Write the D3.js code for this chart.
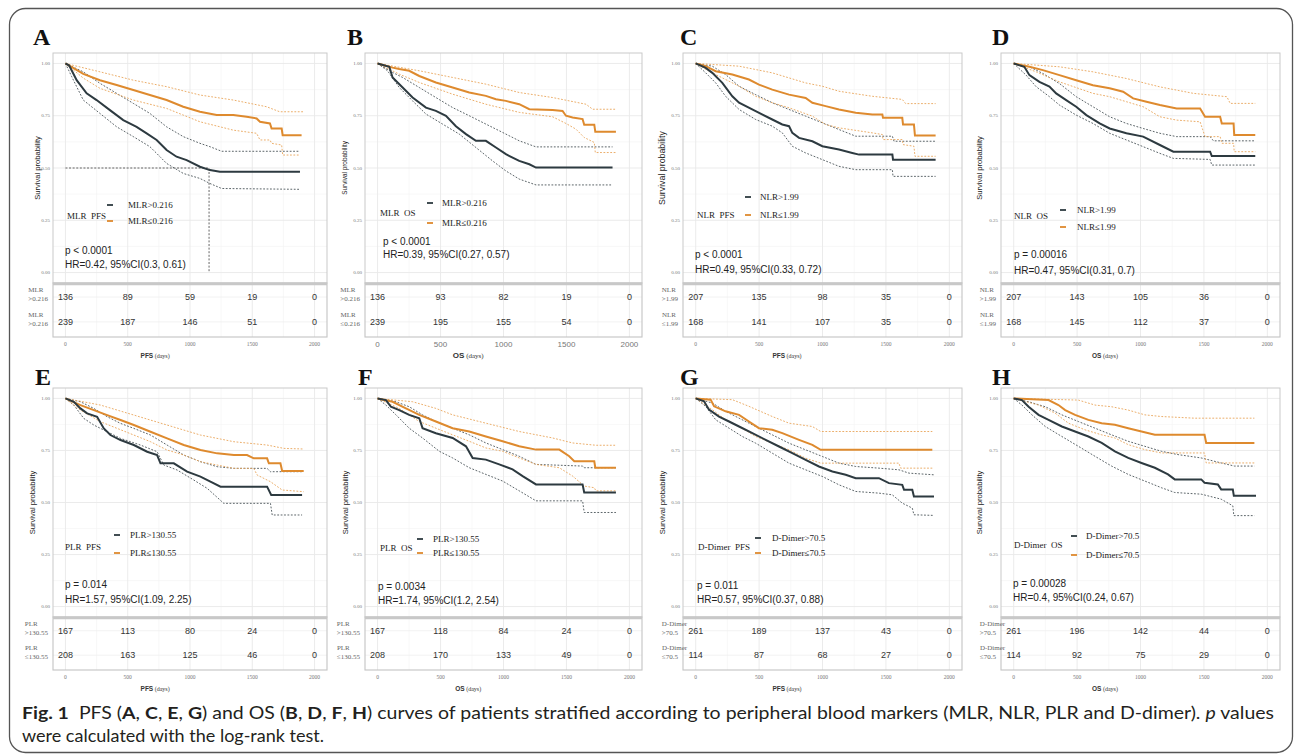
<!DOCTYPE html>
<html>
<head>
<meta charset="utf-8">
<script src="https://cdn.jsdelivr.net/npm/d3@7"></script>
<style>
  body { margin: 0; background: #fff; }
  svg { display: block; }
</style>
</head>
<body>
<svg id="fig" width="1295" height="755"></svg>
<script>
// ---- data ----
const timeTicks = [0, 500, 1000, 1500, 2000];
const survTicks = [0, 0.25, 0.5, 0.75, 1];
const survTickLabels = ['0.00', '0.25', '0.50', '0.75', '1.00'];

const panelLetters = ['A', 'B', 'C', 'D', 'E', 'F', 'G', 'H'];
const endpoints = ['PFS', 'OS', 'PFS', 'OS', 'PFS', 'OS', 'PFS', 'OS'];
const legendTitles = ['MLR  PFS', 'MLR  OS', 'NLR  PFS', 'NLR  OS', 'PLR  PFS', 'PLR  OS', 'D-Dimer  PFS', 'D-Dimer  OS'];
const highLabels = ['MLR>0.216', 'MLR>0.216', 'NLR>1.99', 'NLR>1.99', 'PLR>130.55', 'PLR>130.55', 'D-Dimer>70.5', 'D-Dimer>70.5'];
const lowLabels = ['MLR≤0.216', 'MLR≤0.216', 'NLR≤1.99', 'NLR≤1.99', 'PLR≤130.55', 'PLR≤130.55', 'D-Dimer≤70.5', 'D-Dimer≤70.5'];
const tableLabels = [
  [['MLR', '>0.216'], ['MLR', '>0.216']],
  [['MLR', '>0.216'], ['MLR', '≤0.216']],
  [['NLR', '>1.99'], ['NLR', '≤1.99']],
  [['NLR', '>1.99'], ['NLR', '≤1.99']],
  [['PLR', '>130.55'], ['PLR', '≤130.55']],
  [['PLR', '>130.55'], ['PLR', '≤130.55']],
  [['D-Dimer', '>70.5'], ['D-Dimer', '≤70.5']],
  [['D-Dimer', '>70.5'], ['D-Dimer', '≤70.5']]
];
const pValues = ['p < 0.0001', 'p < 0.0001', 'p < 0.0001', 'p = 0.00016', 'p = 0.014', 'p = 0.0034', 'p = 0.011', 'p = 0.00028'];
const hrTexts = ['HR=0.42, 95%CI(0.3, 0.61)', 'HR=0.39, 95%CI(0.27, 0.57)', 'HR=0.49, 95%CI(0.33, 0.72)', 'HR=0.47, 95%CI(0.31, 0.7)',
  'HR=1.57, 95%CI(1.09, 2.25)', 'HR=1.74, 95%CI(1.2, 2.54)', 'HR=0.57, 95%CI(0.37, 0.88)', 'HR=0.4, 95%CI(0.24, 0.67)'];

// numbers at risk (row 1 = high group, row 2 = low group) at 0/500/1000/1500/2000 days
const riskA = [[136, 89, 59, 19, 0], [239, 187, 146, 51, 0]];
const riskB = [[136, 93, 82, 19, 0], [239, 195, 155, 54, 0]];
const riskC = [[207, 135, 98, 35, 0], [168, 141, 107, 35, 0]];
const riskD = [[207, 143, 105, 36, 0], [168, 145, 112, 37, 0]];
const riskE = [[167, 113, 80, 24, 0], [208, 163, 125, 46, 0]];
const riskF = [[167, 118, 84, 24, 0], [208, 170, 133, 49, 0]];
const riskG = [[261, 189, 137, 43, 0], [114, 87, 68, 27, 0]];
const riskH = [[261, 196, 142, 44, 0], [114, 92, 75, 29, 0]];

// median survival time marked in panel A
const aMedian = 1153;

// Kaplan-Meier curves: [days, survival]; Hi = dark group, Lo = orange group; Up/Lo suffix = 95% CI
const aHiEst = [[0,1],[30,.99],[90,.92],[170,.857],[250,.825],[357,.777],[464,.729],[571,.697],[652,.666],[732,.634],[812,.586],[892,.554],[973,.538],[1080,.506],[1160,.49],[1240,.482],[1883,.482]];
const aHiUp = [[0,1],[143,.96],[277,.905],[411,.857],[545,.809],[678,.761],[812,.697],[946,.65],[1080,.618],[1160,.602],[1254,.58],[1883,.58]];
const aHiLo = [[0,1],[50,.937],[143,.825],[277,.761],[411,.697],[545,.65],[678,.602],[759,.554],[812,.522],[946,.474],[1080,.45],[1160,.426],[1254,.402],[1883,.398]];
const aLoEst = [[0,1],[143,.95],[277,.92],[411,.897],[545,.873],[678,.849],[812,.825],[946,.793],[1080,.769],[1214,.753],[1348,.753],[1455,.745],[1535,.737],[1562,.721],[1642,.713],[1655,.689],[1736,.689],[1744,.657],[1896,.657]];
const aLoUp = [[0,1],[277,.96],[545,.92],[812,.889],[1080,.849],[1348,.825],[1615,.793],[1720,.769],[1910,.769]];
const aLoLo = [[0,1],[143,.93],[277,.881],[545,.825],[812,.785],[946,.753],[1080,.721],[1348,.681],[1535,.666],[1562,.634],[1642,.634],[1655,.618],[1736,.61],[1744,.562],[1883,.562]];

const bHiEst = [[0,1],[93,.984],[119,.933],[199,.885],[278,.837],[384,.789],[463,.773],[543,.75],[622,.70],[702,.662],[781,.63],[860,.63],[940,.598],[1019,.566],[1125,.534],[1205,.518],[1258,.502],[1866,.502]];
const bHiUp = [[0,1],[119,.957],[199,.933],[331,.885],[463,.837],[596,.789],[728,.75],[860,.71],[993,.67],[1125,.63],[1258,.601],[1866,.601]];
const bHiLo = [[0,1],[79,.965],[172,.885],[278,.821],[384,.758],[516,.71],[649,.662],[781,.598],[913,.534],[1019,.486],[1125,.447],[1258,.419],[1866,.419]];
const bLoEst = [[0,1],[119,.98],[172,.973],[251,.965],[331,.94],[463,.909],[596,.885],[728,.861],[860,.845],[940,.829],[1019,.821],[1125,.805],[1205,.781],[1390,.777],[1469,.773],[1496,.75],[1549,.742],[1628,.734],[1641,.707],[1721,.707],[1729,.673],[1893,.673]];
const bLoUp = [[0,1],[331,.965],[596,.933],[860,.901],[1125,.861],[1390,.837],[1655,.805],[1708,.781],[1893,.781]];
const bLoLo = [[0,1],[172,.949],[331,.909],[596,.853],[860,.805],[1125,.766],[1390,.745],[1496,.713],[1575,.686],[1641,.646],[1721,.622],[1729,.574],[1893,.574]];

const cHiEst = [[0,1],[79,.979],[131,.955],[210,.907],[289,.843],[342,.812],[473,.772],[604,.732],[683,.708],[736,.70],[762,.668],[815,.644],[920,.628],[999,.604],[1130,.588],[1235,.572],[1288,.564],[1551,.564],[1556,.54],[1892,.54]];
const cHiUp = [[0,1],[131,.987],[236,.947],[342,.891],[473,.851],[604,.812],[736,.78],[867,.748],[999,.716],[1130,.684],[1262,.652],[1551,.652],[1564,.628],[1892,.628]];
const cHiLo = [[0,1],[79,.955],[158,.907],[236,.843],[342,.78],[473,.732],[604,.70],[683,.668],[762,.604],[867,.572],[999,.54],[1130,.508],[1262,.492],[1551,.492],[1556,.46],[1892,.46]];
const cLoEst = [[0,1],[79,.987],[158,.963],[289,.947],[420,.923],[499,.899],[604,.875],[736,.851],[867,.835],[920,.812],[1025,.796],[1130,.78],[1262,.764],[1393,.756],[1472,.756],[1477,.74],[1629,.74],[1635,.708],[1721,.708],[1729,.655],[1892,.655]];
const cLoUp = [[0,1],[342,.987],[604,.955],[867,.907],[999,.891],[1130,.867],[1393,.843],[1629,.828],[1656,.808],[1892,.808]];
const cLoLo = [[0,1],[131,.955],[342,.891],[473,.843],[604,.812],[736,.788],[920,.748],[1025,.708],[1130,.692],[1393,.668],[1472,.66],[1477,.636],[1629,.636],[1635,.612],[1721,.604],[1729,.556],[1892,.556]];

const dHiEst = [[0,1],[84,.984],[124,.944],[203,.912],[282,.889],[335,.857],[414,.825],[493,.793],[573,.753],[678,.713],[757,.689],[889,.666],[1021,.65],[1153,.61],[1259,.578],[1549,.578],[1562,.557],[1905,.557]];
const dHiUp = [[0,1],[124,.984],[230,.952],[361,.904],[493,.841],[625,.793],[757,.745],[889,.713],[1021,.689],[1153,.666],[1285,.65],[1549,.65],[1575,.63],[1905,.63]];
const dHiLo = [[0,1],[98,.944],[177,.889],[282,.841],[361,.801],[493,.753],[625,.713],[757,.666],[889,.634],[1021,.602],[1153,.57],[1259,.546],[1549,.541],[1562,.514],[1905,.514]];
const dLoEst = [[0,1],[124,.984],[230,.968],[361,.944],[493,.92],[625,.896],[757,.881],[863,.865],[942,.833],[1047,.817],[1153,.801],[1285,.785],[1470,.785],[1509,.745],[1628,.745],[1641,.713],[1734,.713],[1739,.658],[1905,.658]];
const dLoUp = [[0,1],[361,.984],[625,.96],[889,.928],[1153,.888],[1417,.857],[1681,.841],[1707,.809],[1905,.809]];
const dLoLo = [[0,1],[177,.96],[361,.912],[625,.857],[757,.841],[889,.817],[1021,.793],[1153,.745],[1285,.729],[1470,.721],[1509,.65],[1628,.65],[1641,.618],[1734,.618],[1739,.578],[1905,.578]];

const eHiEst = [[0,1],[67,.984],[120,.952],[174,.928],[254,.912],[308,.856],[361,.824],[442,.80],[549,.776],[656,.744],[736,.728],[763,.688],[870,.688],[977,.648],[1084,.624],[1164,.60],[1245,.576],[1619,.576],[1652,.536],[1900,.536]];
const eHiUp = [[0,1],[120,.984],[228,.952],[335,.912],[442,.88],[549,.856],[683,.824],[816,.776],[950,.728],[1084,.696],[1218,.672],[1352,.664],[1619,.664],[1646,.648],[1900,.648]];
const eHiLo = [[0,1],[67,.968],[147,.904],[228,.872],[335,.84],[442,.808],[602,.776],[736,.744],[790,.68],[897,.656],[1030,.608],[1138,.568],[1271,.496],[1646,.496],[1660,.44],[1900,.44]];
const eLoEst = [[0,1],[120,.968],[228,.944],[335,.92],[442,.896],[549,.872],[683,.84],[816,.808],[950,.776],[1084,.752],[1218,.736],[1352,.728],[1458,.728],[1512,.712],[1619,.712],[1633,.688],[1726,.688],[1740,.651],[1913,.651]];
const eLoUp = [[0,1],[281,.968],[549,.92],[816,.872],[1084,.824],[1352,.792],[1619,.776],[1753,.76],[1913,.757]];
const eLoLo = [[0,1],[120,.944],[281,.888],[415,.856],[549,.824],[683,.792],[816,.752],[950,.728],[1084,.696],[1352,.664],[1512,.664],[1539,.632],[1619,.608],[1646,.60],[1740,.56],[1913,.552]];

const fHiEst = [[0,1],[66,.992],[106,.96],[172,.944],[251,.921],[331,.905],[357,.857],[463,.833],[596,.81],[702,.77],[755,.714],[860,.706],[966,.683],[1072,.659],[1152,.627],[1258,.587],[1628,.587],[1641,.548],[1893,.548]];
const fHiUp = [[0,1],[146,.984],[251,.96],[357,.921],[463,.889],[596,.857],[728,.825],[860,.786],[993,.754],[1125,.722],[1258,.683],[1628,.675],[1641,.667],[1893,.667]];
const fHiLo = [[0,1],[66,.968],[146,.921],[251,.857],[357,.81],[490,.746],[596,.714],[728,.667],[860,.635],[993,.603],[1125,.556],[1258,.508],[1628,.508],[1641,.452],[1893,.452]];
const fLoEst = [[0,1],[119,.984],[225,.952],[331,.921],[463,.889],[596,.857],[728,.841],[860,.817],[993,.794],[1125,.77],[1258,.754],[1443,.754],[1522,.722],[1562,.698],[1721,.698],[1729,.667],[1893,.667]];
const fLoUp = [[0,1],[278,.984],[463,.952],[596,.921],[860,.881],[1125,.841],[1390,.81],[1549,.786],[1734,.775],[1893,.775]];
const fLoLo = [[0,1],[172,.952],[331,.889],[463,.857],[596,.825],[728,.794],[860,.762],[993,.746],[1125,.714],[1258,.683],[1443,.667],[1549,.627],[1641,.579],[1721,.571],[1734,.556],[1893,.556]];

const gHiEst = [[0,1],[66,.986],[105,.946],[184,.913],[263,.889],[342,.865],[447,.833],[552,.801],[657,.769],[762,.737],[867,.705],[972,.673],[1078,.649],[1183,.633],[1262,.617],[1445,.617],[1524,.593],[1629,.585],[1643,.561],[1708,.561],[1721,.529],[1879,.529]];
const gHiUp = [[0,1],[131,.978],[236,.938],[342,.905],[473,.865],[604,.825],[736,.785],[867,.753],[999,.721],[1130,.689],[1262,.673],[1445,.665],[1603,.657],[1682,.641],[1879,.633]];
const gHiLo = [[0,1],[79,.962],[158,.897],[263,.857],[368,.817],[473,.785],[604,.737],[736,.689],[867,.657],[999,.625],[1130,.585],[1262,.553],[1445,.545],[1550,.537],[1629,.497],[1708,.473],[1721,.441],[1879,.438]];
const gLoEst = [[0,1],[118,.994],[145,.962],[236,.938],[342,.921],[420,.889],[499,.857],[604,.849],[683,.833],[815,.801],[920,.777],[986,.753],[1866,.753]];
const gLoUp = [[0,1],[289,.994],[420,.962],[604,.913],[736,.881],[920,.865],[986,.841],[1866,.841]];
const gLoLo = [[0,1],[131,.946],[236,.897],[342,.865],[473,.817],[604,.785],[736,.753],[867,.713],[986,.689],[1603,.689],[1616,.665],[1866,.665]];

const hHiEst = [[0,1],[65,.992],[118,.96],[196,.921],[275,.897],[380,.865],[484,.841],[589,.817],[694,.786],[798,.746],[903,.714],[1008,.69],[1113,.667],[1217,.635],[1270,.611],[1479,.611],[1505,.595],[1610,.587],[1636,.563],[1728,.563],[1736,.532],[1911,.532]];
const hHiUp = [[0,1],[118,.984],[249,.96],[380,.921],[510,.889],[641,.857],[772,.825],[903,.794],[1034,.77],[1165,.746],[1296,.73],[1479,.714],[1636,.69],[1741,.675],[1898,.675]];
const hHiLo = [[0,1],[65,.968],[144,.921],[249,.865],[380,.817],[510,.77],[641,.722],[772,.675],[903,.635],[1034,.603],[1165,.571],[1270,.548],[1479,.54],[1636,.516],[1728,.484],[1736,.437],[1898,.437]];
const hLoEst = [[0,1],[275,.992],[353,.968],[406,.944],[484,.921],[589,.897],[694,.881],[798,.873],[903,.857],[1008,.841],[1113,.825],[1505,.825],[1518,.786],[1898,.786]];
const hLoUp = [[0,1],[510,.992],[641,.968],[772,.96],[903,.944],[1034,.921],[1165,.913],[1427,.905],[1898,.905]];
const hLoLo = [[0,1],[196,.968],[327,.929],[432,.881],[563,.849],[694,.825],[798,.81],[903,.778],[1034,.754],[1165,.738],[1505,.738],[1518,.69],[1898,.69]];

const curvesHigh = [[aHiEst, aHiUp, aHiLo], [bHiEst, bHiUp, bHiLo], [cHiEst, cHiUp, cHiLo], [dHiEst, dHiUp, dHiLo],
  [eHiEst, eHiUp, eHiLo], [fHiEst, fHiUp, fHiLo], [gHiEst, gHiUp, gHiLo], [hHiEst, hHiUp, hHiLo]];
const curvesLow = [[aLoEst, aLoUp, aLoLo], [bLoEst, bLoUp, bLoLo], [cLoEst, cLoUp, cLoLo], [dLoEst, dLoUp, dLoLo],
  [eLoEst, eLoUp, eLoLo], [fLoEst, fLoUp, fLoLo], [gLoEst, gLoUp, gLoLo], [hLoEst, hLoUp, hLoLo]];
const riskTables = [riskA, riskB, riskC, riskD, riskE, riskF, riskG, riskH];

// ---- layout (pixels) ----
const rowGeom = [
  { top: 53, bottom: 283, tableBottom: 337, letterY: 45 },
  { top: 388, bottom: 617, tableBottom: 670, letterY: 385 }
];
// per panel: plot box, letter, y label offset/size, legend + stats offsets relative to plot top-left
const layout = [
  { row: 0, x0: 53, x1: 327, letterX: 33, ylabDx: -16, ylabSize: 7.6, tickSize: 5.5, leg: [14, 163, 57, 75, 152, 168], stat: [12, 197, 211] },
  { row: 0, x0: 365, x1: 642, letterX: 347, ylabDx: -20, ylabSize: 6.4, tickSize: 8, leg: [15, 160, 65, 77, 150, 170], stat: [18, 188, 201] },
  { row: 0, x0: 683, x1: 962, letterX: 680, ylabDx: -21, ylabSize: 8.8, tickSize: 5.5, leg: [14, 162, 65, 77, 144, 162], stat: [12, 201, 216] },
  { row: 0, x0: 1001, x1: 1280, letterX: 992, ylabDx: -22, ylabSize: 7.6, tickSize: 5.5, leg: [13, 163, 62, 76, 157, 174], stat: [13, 201, 217] },
  { row: 1, x0: 53, x1: 327, letterX: 35, ylabDx: -21, ylabSize: 7.6, tickSize: 5.5, leg: [12, 159, 64, 77, 147, 165], stat: [12, 196, 211] },
  { row: 1, x0: 365, x1: 642, letterX: 358, ylabDx: -20, ylabSize: 7.6, tickSize: 5.5, leg: [15, 160, 55, 68, 151, 165], stat: [13, 198, 212] },
  { row: 1, x0: 683, x1: 962, letterX: 680, ylabDx: -21, ylabSize: 7.6, tickSize: 5.5, leg: [15, 159, 75, 89, 150, 165], stat: [14, 197, 211] },
  { row: 1, x0: 1001, x1: 1280, letterX: 992, ylabDx: -22, ylabSize: 7.6, tickSize: 5.5, leg: [13, 157, 73, 85, 148, 167], stat: [12, 195, 209] }
];

const darkCol = '#2d3a40';
const orangeCol = '#de8a2e';
const serif = '"Liberation Serif", "Times New Roman", serif';
const sans = '"Liberation Sans", Arial, sans-serif';

const svg = d3.select('#fig');

// outer frame
svg.append('rect')
    .attr('x', 9.5).attr('y', 8.5)
    .attr('width', 1283).attr('height', 744)
    .attr('rx', 16)
    .attr('fill', 'none')
    .attr('stroke', '#555')
    .attr('stroke-width', 1.3);

const drawPanel = (i) => {
  const L = layout[i];
  const g = rowGeom[L.row];
  const x = d3.scaleLinear().domain([-100, 2100]).range([L.x0, L.x1]);
  const y = d3.scaleLinear().domain([-0.05, 1.05]).range([g.bottom, g.top]);
  const panel = svg.append('g').attr('class', 'panel');

  // grid: minor then major
  const minorT = [250, 750, 1250, 1750];
  const minorS = [0.125, 0.375, 0.625, 0.875];
  panel.selectAll('.vminor').data(minorT).enter().append('line')
      .attr('x1', d => x(d)).attr('x2', d => x(d))
      .attr('y1', g.top).attr('y2', g.tableBottom)
      .attr('stroke', '#f3f3f3').attr('stroke-width', 0.6);
  panel.selectAll('.hminor').data(minorS).enter().append('line')
      .attr('x1', L.x0).attr('x2', L.x1)
      .attr('y1', d => y(d)).attr('y2', d => y(d))
      .attr('stroke', '#f3f3f3').attr('stroke-width', 0.6);
  panel.selectAll('.vmajor').data(timeTicks).enter().append('line')
      .attr('x1', d => x(d)).attr('x2', d => x(d))
      .attr('y1', g.top).attr('y2', g.tableBottom)
      .attr('stroke', '#e9e9e9').attr('stroke-width', 0.9);
  panel.selectAll('.hmajor').data(survTicks).enter().append('line')
      .attr('x1', L.x0).attr('x2', L.x1)
      .attr('y1', d => y(d)).attr('y2', d => y(d))
      .attr('stroke', '#e9e9e9').attr('stroke-width', 0.9);

  // plot border
  panel.append('rect')
      .attr('x', L.x0).attr('y', g.top)
      .attr('width', L.x1 - L.x0).attr('height', g.bottom - g.top)
      .attr('fill', 'none').attr('stroke', '#c9c9c9').attr('stroke-width', 1);

  // y tick labels
  panel.selectAll('.ytick').data(survTicks).enter().append('text')
      .attr('x', L.x0 - 3).attr('y', d => y(d))
      .attr('dy', '0.35em')
      .attr('text-anchor', 'end')
      .attr('font-family', serif).attr('font-size', 5)
      .attr('fill', '#777')
      .text((d, k) => survTickLabels[k]);

  // y axis title
  const ylx = L.x0 + L.ylabDx;
  const yly = (g.top + g.bottom) / 2;
  panel.append('text')
      .attr('transform', `translate(${ylx},${yly}) rotate(-90)`)
      .attr('text-anchor', 'middle')
      .attr('dy', '0.35em')
      .attr('font-family', sans).attr('font-size', L.ylabSize)
      .attr('fill', '#222')
      .text('Survival probability');

  // panel letter
  panel.append('text')
      .attr('x', L.letterX).attr('y', g.letterY)
      .attr('font-family', serif).attr('font-weight', 'bold').attr('font-size', 24)
      .attr('fill', '#111')
      .text(panelLetters[i]);

  const line = d3.line().x(d => x(d[0])).y(d => y(d[1]));

  // median line (panel A only)
  if (i === 0) {
    panel.append('path')
        .attr('d', `M${x(0)},${y(0.5)}H${x(aMedian)}V${y(0)}`)
        .attr('fill', 'none').attr('stroke', '#555')
        .attr('stroke-width', 0.9).attr('stroke-dasharray', '2,1.6');
  }

  // confidence bands (dotted)
  [[curvesHigh[i], '#4a5358'], [curvesLow[i], '#e9a55a']].forEach(([c, col]) => {
    [c[1], c[2]].forEach(band => {
      panel.append('path')
          .attr('d', line(band))
          .attr('fill', 'none').attr('stroke', col)
          .attr('stroke-width', 0.9).attr('stroke-dasharray', '1.8,1.6');
    });
  });

  // survival estimates
  panel.append('path')
      .attr('d', line(curvesLow[i][0]))
      .attr('fill', 'none').attr('stroke', orangeCol).attr('stroke-width', 2);
  panel.append('path')
      .attr('d', line(curvesHigh[i][0]))
      .attr('fill', 'none').attr('stroke', darkCol).attr('stroke-width', 2);

  // legend
  const [tdx, tdy, mdx, ldx, hdy, ody] = L.leg;
  panel.append('text')
      .attr('x', L.x0 + tdx).attr('y', g.top + tdy).attr('dy', '0.35em')
      .attr('font-family', serif).attr('font-size', 9).attr('fill', '#222')
      .attr('xml:space', 'preserve')
      .text(legendTitles[i]);
  [[hdy, darkCol, highLabels[i]], [ody, orangeCol, lowLabels[i]]].forEach(([dy, col, lab]) => {
    panel.append('line')
        .attr('x1', L.x0 + mdx - 3).attr('x2', L.x0 + mdx + 3)
        .attr('y1', g.top + dy).attr('y2', g.top + dy)
        .attr('stroke', col).attr('stroke-width', 1.8);
    panel.append('text')
        .attr('x', L.x0 + ldx).attr('y', g.top + dy).attr('dy', '0.35em')
        .attr('font-family', serif).attr('font-size', 9).attr('fill', '#222')
        .text(lab);
  });

  // p value and hazard ratio
  const [sdx, pdy, hrdy] = L.stat;
  panel.append('text')
      .attr('x', L.x0 + sdx).attr('y', g.top + pdy).attr('dy', '0.35em')
      .attr('font-family', sans).attr('font-size', 10).attr('fill', '#222')
      .text(pValues[i]);
  panel.append('text')
      .attr('x', L.x0 + sdx).attr('y', g.top + hrdy).attr('dy', '0.35em')
      .attr('font-family', sans).attr('font-size', 10).attr('fill', '#222')
      .text(hrTexts[i]);

  // risk table
  const tableH = g.tableBottom - g.bottom;
  const rowY = [g.bottom + tableH * 0.26, g.bottom + tableH * 0.72];
  panel.selectAll('.rowgrid').data(rowY).enter().append('line')
      .attr('x1', L.x0).attr('x2', L.x1)
      .attr('y1', d => d).attr('y2', d => d)
      .attr('stroke', '#efefef').attr('stroke-width', 0.8);
  panel.append('rect')
      .attr('x', L.x0).attr('y', g.bottom)
      .attr('width', L.x1 - L.x0).attr('height', tableH)
      .attr('fill', 'none').attr('stroke', '#c4c4c4').attr('stroke-width', 1.1);
  panel.append('line')
      .attr('x1', L.x0).attr('x2', L.x1)
      .attr('y1', g.bottom + 1).attr('y2', g.bottom + 1)
      .attr('stroke', '#c8c8c8').attr('stroke-width', 2.5);

  riskTables[i].forEach((row, r) => {
    panel.selectAll(`.risk${r}`).data(row).enter().append('text')
        .attr('x', (d, k) => x(timeTicks[k]))
        .attr('y', rowY[r]).attr('dy', '0.35em')
        .attr('text-anchor', 'middle')
        .attr('font-family', sans).attr('font-size', 9).attr('fill', '#333')
        .text(d => d);
    // two-line group label, left aligned, ending just left of the table
    const second = panel.append('text')
        .attr('x', L.x0 - 5).attr('y', rowY[r] + 4)
        .attr('text-anchor', 'end')
        .attr('font-family', serif).attr('font-size', 7).attr('fill', '#666')
        .text(tableLabels[i][r][1]);
    const left = L.x0 - 5 - second.node().getComputedTextLength();
    panel.append('text')
        .attr('x', left).attr('y', rowY[r] - 5)
        .attr('font-family', serif).attr('font-size', 7).attr('fill', '#666')
        .text(tableLabels[i][r][0]);
  });

  // x tick labels and title
  panel.selectAll('.xtick').data(timeTicks).enter().append('text')
      .attr('x', d => x(d)).attr('y', g.tableBottom + 7).attr('dy', '0.35em')
      .attr('text-anchor', 'middle')
      .attr('font-family', L.tickSize > 6 ? sans : serif).attr('font-size', L.tickSize)
      .attr('fill', '#777')
      .text(d => d);
  const xt = panel.append('text')
      .attr('x', x(720)).attr('y', g.tableBottom + 15).attr('dy', '0.35em')
      .attr('text-anchor', 'middle').attr('fill', '#333');
  xt.append('tspan').attr('font-family', sans).attr('font-weight', 'bold')
      .attr('font-size', i === 1 ? 8 : 6.5).text(endpoints[i]);
  xt.append('tspan').attr('font-family', serif)
      .attr('font-size', i === 1 ? 7 : 6).text('  (days)');
};

d3.range(8).forEach(drawPanel);

// caption
const capFont = 'Lato, "Open Sans", sans-serif';
const capParts = [
  ['Fig. 1', 'b'], ['  PFS (', ''], ['A', 'b'], [', ', ''], ['C', 'b'], [', ', ''], ['E', 'b'], [', ', ''], ['G', 'b'],
  [') and OS (', ''], ['B', 'b'], [', ', ''], ['D', 'b'], [', ', ''], ['F', 'b'], [', ', ''], ['H', 'b'],
  [') curves of patients stratified according to peripheral blood markers (MLR, NLR, PLR and D-dimer). ', ''],
  ['p', 'i'], [' values', '']
];
const cap1 = svg.append('text')
    .attr('x', 22).attr('y', 719)
    .attr('font-family', capFont).attr('font-size', 17).attr('fill', '#231f20')
    .attr('xml:space', 'preserve')
    .attr('textLength', 1252).attr('lengthAdjust', 'spacingAndGlyphs');
capParts.forEach(([t, s]) => {
  cap1.append('tspan')
      .attr('font-weight', s === 'b' ? 'bold' : null)
      .attr('font-style', s === 'i' ? 'italic' : null)
      .text(t);
});
svg.append('text')
    .attr('x', 22).attr('y', 742)
    .attr('font-family', capFont).attr('font-size', 17).attr('fill', '#231f20')
    .attr('textLength', 302).attr('lengthAdjust', 'spacingAndGlyphs')
    .text('were calculated with the log-rank test.');
</script>
</body>
</html>
